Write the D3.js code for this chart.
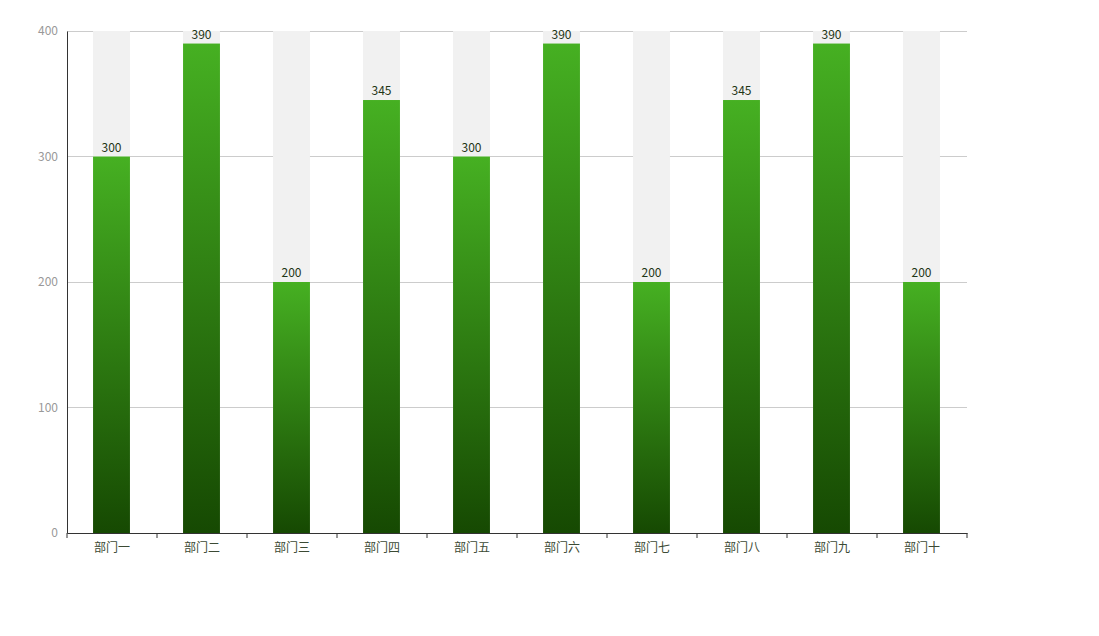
<!DOCTYPE html>
<html><head><meta charset="utf-8">
<script src="https://cdn.jsdelivr.net/npm/d3@7/dist/d3.min.js"></script>
<style>body{margin:0;background:#fff}text{font-family:"Noto Sans CJK SC","Noto Sans",sans-serif}</style>
</head><body><svg id="c" width="1099" height="636"></svg>
<script>
const categories = ["部门一","部门二","部门三","部门四","部门五","部门六","部门七","部门八","部门九","部门十"];
const values = [300,390,200,345,300,390,200,345,390,200];
const yTicks = [0,100,200,300,400];
const yMax = 400;

const svg = d3.select("#c");
const m = {l:67, r:132, t:31, b:103};
const W = 1099 - m.l - m.r, H = 636 - m.t - m.b;
const g = svg.append("g").attr("transform", `translate(${m.l},${m.t})`);
const x = d3.scaleBand().domain(categories).range([0, W]).paddingInner(0).paddingOuter(0);
const y = d3.scaleLinear().domain([0, yMax]).range([H, 0]);
const bw = x.bandwidth() * 0.41;
const off = (x.bandwidth()-bw)/2 - 0.5;

const defs = svg.append("defs");
const grad = defs.append("linearGradient").attr("id","gr").attr("x1",0).attr("y1",0).attr("x2",0).attr("y2",1);
grad.append("stop").attr("offset","0%").attr("stop-color","#46b022");
grad.append("stop").attr("offset","100%").attr("stop-color","#164902");

// grid
g.append("g").selectAll("line").data(yTicks.filter(d=>d>0)).join("line")
  .attr("x1",0).attr("x2",W).attr("y1",d=>y(d)).attr("y2",d=>y(d))
  .attr("stroke","#cccccc").attr("shape-rendering","crispEdges");

// background bars
g.append("g").selectAll("rect").data(categories).join("rect")
  .attr("x",d=>x(d)+off).attr("width",bw)
  .attr("y",y(yMax)).attr("height",H-y(yMax)).attr("fill","#f1f1f1");

// bars
g.append("g").selectAll("rect").data(values).join("rect")
  .attr("x",(d,i)=>x(categories[i])+off).attr("width",bw)
  .attr("y",d=>y(d)).attr("height",d=>H-y(d)).attr("fill","url(#gr)");

// labels
g.append("g").selectAll("text").data(values).join("text")
  .attr("x",(d,i)=>x(categories[i])+off+bw/2).attr("y",d=>y(d)-5)
  .attr("text-anchor","middle").attr("font-size",12).attr("fill","#1f3516").text(d=>d);

// y axis
const ya = g.append("g").call(d3.axisLeft(y).tickValues(yTicks).tickSize(0).tickPadding(9));
ya.select(".domain").attr("stroke","#333");
ya.selectAll("text").attr("fill","#999").attr("font-size",12).attr("font-family","\"Noto Sans CJK SC\",sans-serif");

// x axis
const xa = g.append("g").attr("transform",`translate(0,${H})`)
  .call(d3.axisBottom(x).tickSize(0).tickPadding(10));
xa.select(".domain").attr("stroke","#333");
xa.selectAll("text").attr("fill","#3c4a34").attr("font-size",12).attr("font-family","\"Noto Sans CJK SC\",sans-serif");
xa.append("g").selectAll("line").data(d3.range(categories.length+1)).join("line")
  .attr("x1",i=>i*x.step()).attr("x2",i=>i*x.step()).attr("y1",0).attr("y2",5).attr("stroke","#333");
</script></body></html>
